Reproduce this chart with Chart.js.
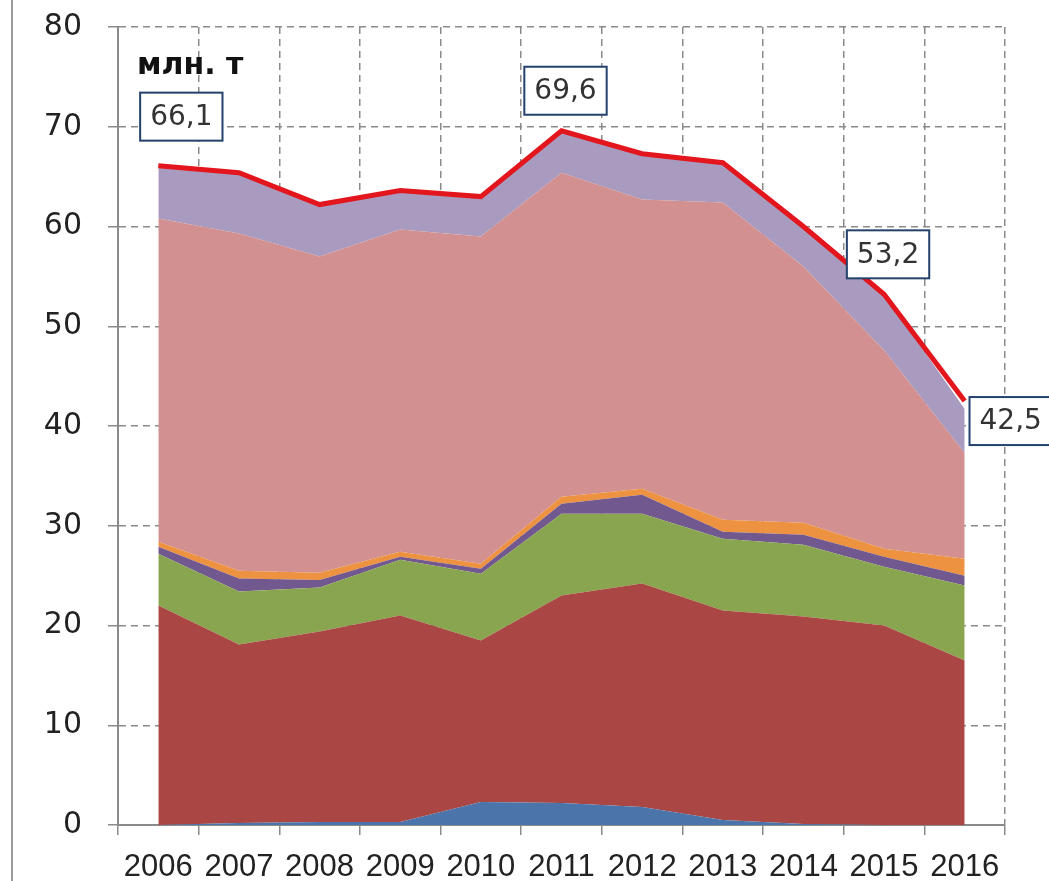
<!DOCTYPE html>
<html>
<head>
<meta charset="utf-8">
<script src="https://cdn.jsdelivr.net/npm/chart.js@4"></script>
<style>
    html, body { margin: 0; padding: 0; background: #fff; }
    #wrap { position: relative; width: 1049px; height: 881px; }
    #frame { position: absolute; left: 11px; top: 0; width: 0; height: 881px; border-left: 2px solid #9a9a9a; }
    canvas { position: absolute; left: 0; top: 0; }
</style>
</head>
<body>
<div id="wrap">
    <div id="frame"></div>
    <canvas id="chart" width="1049" height="881"></canvas>
</div>
<script>
// years on the x axis
const years = ['2006', '2007', '2008', '2009', '2010', '2011', '2012', '2013', '2014', '2015', '2016'];

// stacked layers, bottom to top (млн. т)
const blueLayer   = [0.0, 0.2, 0.3, 0.3, 2.3, 2.2, 1.8, 0.5, 0.1, 0.0, 0.0];
const redLayer    = [22.0, 17.9, 19.1, 20.7, 16.2, 20.8, 22.4, 21.0, 20.8, 20.0, 16.5];
const greenLayer  = [5.2, 5.3, 4.4, 5.6, 6.7, 8.2, 7.0, 7.2, 7.2, 5.9, 7.5];
const purpleLayer = [0.7, 1.3, 0.75, 0.3, 0.5, 1.0, 1.9, 0.7, 1.0, 1.0, 1.0];
const orangeLayer = [0.5, 0.8, 0.75, 0.5, 0.5, 0.7, 0.6, 1.2, 1.2, 0.8, 1.7];
const pinkLayer   = [32.4, 33.8, 31.7, 32.3, 32.8, 32.5, 29.0, 31.8, 25.7, 19.9, 10.6];
const lilacLayer  = [5.3, 6.1, 5.2, 3.9, 4.0, 4.2, 4.6, 4.0, 4.0, 5.6, 4.4];

// total line
const totals = [66.1, 65.4, 62.2, 63.6, 63.0, 69.6, 67.3, 66.4, 60.0, 53.2, 42.5];

// which totals get a boxed label
const labelledYears = ['2006', '2011', '2015', '2016'];

Chart.defaults.font.family = "'DejaVu Sans', Verdana, sans-serif";
Chart.defaults.color = '#222';

function areaSet(label, data, color, fill) {
    return {
        label: label,
        data: data,
        backgroundColor: color,
        borderColor: color,
        borderWidth: 0,
        pointRadius: 0,
        tension: 0,
        fill: fill,
        stack: 'layers'
    };
}

// boxed value labels + unit caption
const boxLabels = {
    id: 'boxLabels',
    afterDatasetsDraw(chart, args, opts) {
        const ctx = chart.ctx;
        const meta = chart.getDatasetMeta(opts.datasetIndex);
        ctx.save();

        ctx.font = 'bold 30px "DejaVu Sans", sans-serif';
        ctx.fillStyle = '#111';
        ctx.textAlign = 'left';
        ctx.textBaseline = 'alphabetic';
        ctx.fillText('млн. т', chart.chartArea.left + 19, chart.chartArea.top + 47);

        ctx.font = '28px "DejaVu Sans", sans-serif';
        ctx.textAlign = 'center';
        ctx.textBaseline = 'middle';
        labelledYears.forEach((yr, k) => {
            const i = years.indexOf(yr);
            const pt = meta.data[i];
            const off = opts.offsets[k];
            const text = totals[i].toFixed(1).replace('.', ',');
            const w = ctx.measureText(text).width + 20;
            const h = 48;
            const cx = pt.x + off[0];
            const cy = pt.y + off[1];
            ctx.fillStyle = '#fff';
            ctx.fillRect(cx - w / 2, cy - h / 2, w, h);
            ctx.strokeStyle = '#24416b';
            ctx.lineWidth = 2;
            ctx.strokeRect(cx - w / 2, cy - h / 2, w, h);
            ctx.fillStyle = '#333';
            ctx.fillText(text, cx, cy + 1);
        });
        ctx.restore();
    }
};

const ctx = document.getElementById('chart').getContext('2d');
new Chart(ctx, {
    type: 'line',
    data: {
        labels: years,
        datasets: [
            areaSet('blue', blueLayer, '#4a74aa', 'origin'),
            areaSet('red', redLayer, '#aa4643', '-1'),
            areaSet('green', greenLayer, '#8aa54f', '-1'),
            areaSet('purple', purpleLayer, '#71588f', '-1'),
            areaSet('orange', orangeLayer, '#ec9240', '-1'),
            areaSet('pink', pinkLayer, '#d29190', '-1'),
            areaSet('lilac', lilacLayer, '#a89bbf', '-1'),
            {
                label: 'total',
                data: totals,
                borderColor: '#e3161d',
                borderWidth: 5,
                pointRadius: 0,
                tension: 0,
                fill: false,
                stack: 'total',
                order: -1
            }
        ]
    },
    options: {
        responsive: false,
        animation: false,
        events: [],
        layout: { padding: { left: 0, right: 44, top: 27, bottom: 0 } },
        plugins: {
            legend: { display: false },
            tooltip: { enabled: false },
            boxLabels: {
                datasetIndex: 7,
                offsets: [[23, -49], [4, -40], [4, -40], [46, 20]]
            }
        },
        scales: {
            x: {
                offset: true,
                grid: {
                    offset: true,
                    color: '#8a8a8a',
                    lineWidth: 1.5,
                    tickLength: 10,
                    tickColor: '#8a8a8a',
                    tickWidth: 1.5
                },
                border: { display: true, color: '#8a8a8a', width: 2, dash: [7, 5] },
                ticks: {
                    padding: 14,
                    color: '#222',
                    maxRotation: 0,
                    autoSkip: false,
                    font: { family: "'Liberation Sans', Arial, sans-serif", size: 31 }
                },
                afterFit(s) { s.height = 56; }
            },
            y: {
                stacked: true,
                min: 0,
                max: 80,
                grid: {
                    color: '#8a8a8a',
                    lineWidth: 1.5,
                    tickLength: 10,
                    tickColor: '#8a8a8a',
                    tickWidth: 1.5
                },
                border: { display: true, color: '#8a8a8a', width: 2, dash: [7, 5] },
                ticks: {
                    stepSize: 10,
                    padding: 26,
                    color: '#222',
                    font: { size: 30 }
                },
                afterFit(s) {
                    s.width = 118;
                    s.paddingTop = 0;
                    s.paddingBottom = 0;
                }
            }
        }
    },
    plugins: [boxLabels]
});
</script>
</body>
</html>
